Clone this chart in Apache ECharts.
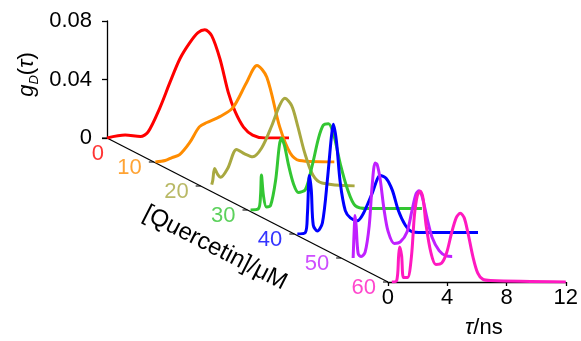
<!DOCTYPE html>
<html>
<head>
<meta charset="utf-8">
<script src="https://cdn.jsdelivr.net/npm/echarts@6/dist/echarts.min.js"></script>
<style>
  html, body { margin: 0; padding: 0; background: #fff; }
  #chart { width: 581px; height: 341px; }
</style>
</head>
<body>
<div id="chart"></div>
<script>
// quercetin concentrations (µM), one trace each
const concentrations = [0, 10, 20, 30, 40, 50, 60];
const traceColors = ['#ff0000', '#ff8c00', '#a8a840', '#33c633', '#0000ff', '#c020ff', '#ff19c0'];

const tauTicks = [0, 4, 8, 12];
const gTicks = [0, 0.04, 0.08];

// [tau (ns), gD(tau)]
const g0uM = [[0, 0], [1.2, 0.002], [2.2, 0.001], [2.7, 0.004], [3.5, 0.021], [4.15, 0.038], [4.8, 0.054],
  [5.45, 0.065], [6.0, 0.072], [6.45, 0.074], [6.9, 0.07], [7.45, 0.054], [8.0, 0.031], [8.45, 0.018],
  [9.0, 0.0075], [9.6, 0.002], [10.4, 0], [12, 0]];
const g10uM = [[0.1, 0], [0.75, 0.001], [1.2, 0.003], [1.7, 0.005], [2.35, 0.013], [3.0, 0.024], [3.5, 0.027],
  [4.35, 0.031], [5.2, 0.037], [6.1, 0.054], [6.8, 0.066], [7.45, 0.058], [8.3, 0.024], [9.0, 0.006],
  [9.6, 0.001], [11.9, 0]];
const g20uM = [[0.73, 0.001], [0.8, 0.004], [0.92, 0.012], [1.12, 0.008], [1.32, 0.006], [1.78, 0.012],
  [2.37, 0.025], [2.9, 0.022], [3.43, 0.02], [4.02, 0.026], [4.68, 0.041], [5.2, 0.055], [5.55, 0.06],
  [6.0, 0.055], [6.4, 0.041], [6.85, 0.023], [7.4, 0.0075], [8.0, 0.002], [10.15, 0]];
const g30uM = [[0.2, 0], [0.73, 0.001], [0.86, 0.01], [0.92, 0.024], [1.05, 0.01], [1.25, 0.002], [1.52, 0.003],
  [1.85, 0.02], [2.1, 0.044], [2.24, 0.049], [2.44, 0.044], [2.7, 0.031], [3.03, 0.018], [3.36, 0.012],
  [3.82, 0.014], [4.28, 0.031], [4.68, 0.049], [5.0, 0.058], [5.34, 0.059], [5.67, 0.052], [6.13, 0.031],
  [6.6, 0.014], [7.1, 0.003], [7.9, 0.001], [11.5, 0.001]];
const g40uM = [[0.2, 0], [0.73, 0.001], [0.86, 0.013], [0.99, 0.04], [1.12, 0.03], [1.25, 0.006], [1.52, 0.002],
  [1.85, 0.0075], [2.18, 0.037], [2.44, 0.066], [2.57, 0.075], [2.77, 0.064], [3.03, 0.035], [3.36, 0.016],
  [3.7, 0.011], [4.15, 0.009], [4.55, 0.014], [5.14, 0.028], [5.67, 0.04], [6.06, 0.038], [6.46, 0.03],
  [6.86, 0.016], [7.32, 0.006], [7.78, 0.0014], [8.2, 0.001], [12.2, 0.001]];
const g50uM = [[0.79, 0], [0.86, 0.019], [0.92, 0.029], [0.99, 0.022], [1.12, 0.003], [1.32, 0.001], [1.58, 0.004],
  [1.85, 0.022], [2.04, 0.049], [2.24, 0.065], [2.37, 0.064], [2.57, 0.054], [2.83, 0.033], [3.1, 0.018],
  [3.5, 0.01], [3.9, 0.011], [4.35, 0.018], [4.68, 0.033], [4.94, 0.044], [5.14, 0.046], [5.34, 0.042],
  [5.67, 0.027], [6.0, 0.014], [6.46, 0.005], [6.92, 0.0014], [7.32, 0.001]];
const g60uM = [[0.26, 0], [0.59, 0.001], [0.72, 0.018], [0.79, 0.024], [0.92, 0.018], [1.05, 0.003], [1.32, 0.003],
  [1.58, 0.017], [1.78, 0.045], [1.98, 0.059], [2.18, 0.062], [2.37, 0.057], [2.57, 0.039], [2.9, 0.02],
  [3.23, 0.012], [3.63, 0.013], [3.96, 0.02], [4.28, 0.033], [4.61, 0.044], [4.88, 0.047], [5.14, 0.044],
  [5.41, 0.033], [5.74, 0.017], [6.06, 0.006], [6.39, 0.002], [6.92, 0.001], [12, 0]];

const traces = [g0uM, g10uM, g20uM, g30uM, g40uM, g50uM, g60uM];

// layout of the fake 3D box
const boxLeft = 107, boxTop = 21, boxW = 182, boxH = 117;
const stepX = 46.83, stepY = 24;
const FONT = 'Arial, Liberation Sans, sans-serif';
const FS = 22;

const chart = echarts.init(document.getElementById('chart'));

const grids = [], xAxes = [], yAxes = [], series = [];

traces.forEach((data, i) => {
  grids.push({ left: boxLeft + i * stepX, top: boxTop + i * stepY, width: boxW, height: boxH });
  const last = i === traces.length - 1;
  xAxes.push({
    gridIndex: i, type: 'value', min: 0, max: 12, interval: 4, show: last,
    axisLine: { lineStyle: { color: '#000', width: 1.3 } },
    axisTick: { show: true, length: 4, lineStyle: { color: '#000', width: 1.3 } },
    splitLine: { show: false },
    axisLabel: { color: '#000', fontSize: FS, fontFamily: FONT, margin: 5 },
    name: '{t|τ}/ns', nameLocation: 'middle', nameGap: 35,
    nameTextStyle: { color: '#000', fontSize: FS, fontFamily: FONT, padding: [0, 0, 0, 14], rich: { t: { fontSize: FS, fontStyle: 'italic', fontFamily: FONT } } }
  });
  yAxes.push({
    gridIndex: i, type: 'value', min: 0, max: 0.08, interval: 0.04, show: i === 0,
    axisLine: { show: true, lineStyle: { color: '#000', width: 1.3 } },
    axisTick: { show: true, length: 5, lineStyle: { color: '#000', width: 1.3 } },
    splitLine: { show: false },
    axisLabel: { color: '#000', fontSize: FS, fontFamily: FONT, margin: 15, formatter: v => v === 0 ? '0' : v.toFixed(2) },
    name: '{g|g}{d|D}{p|(}{t|τ}{p|)}', nameLocation: 'middle', nameRotate: 90, nameGap: 66,
    nameTextStyle: {
      color: '#000', fontFamily: FONT, padding: [0, 0, 0, 10],
      rich: {
        g: { fontSize: FS, fontStyle: 'italic', lineHeight: 28, fontFamily: FONT },
        d: { fontSize: 13, fontStyle: 'italic', lineHeight: 14, verticalAlign: 'bottom', fontFamily: FONT },
        p: { fontSize: FS, lineHeight: 28, fontFamily: FONT },
        t: { fontSize: FS, fontStyle: 'italic', lineHeight: 28, fontFamily: FONT }
      }
    }
  });
  series.push({
    type: 'line', xAxisIndex: i, yAxisIndex: i, data: data,
    symbol: 'none', smooth: 0.3, silent: true,
    lineStyle: { color: traceColors[i], width: 3 }, z: 2 + i
  });
});

// diagonal concentration axis
const d = traces.length;
grids.push({ left: boxLeft, top: boxTop + boxH, width: stepX * 6, height: stepY * 6 });
xAxes.push({ gridIndex: d, type: 'value', min: 0, max: 60, show: false });
yAxes.push({ gridIndex: d, type: 'value', min: 0, max: 60, inverse: true, show: false });

series.push({
  type: 'line', xAxisIndex: d, yAxisIndex: d, silent: true, symbol: 'none',
  data: [[0, 0], [60, 60]], lineStyle: { color: '#000', width: 1.3 }, z: 1
});
series.push({
  type: 'scatter', xAxisIndex: d, yAxisIndex: d, silent: true,
  symbol: 'rect', symbolSize: [5, 1.3], symbolOffset: [-2.5, 0],
  itemStyle: { color: '#000' }, z: 1,
  data: concentrations.map((c, i) => ({
    value: [c, c],
    label: {
      show: true, position: 'left', distance: 7, formatter: String(c),
      color: traceColors[i], fontSize: FS, fontFamily: FONT,
      offset: i === 0 ? [9, 16] : [0, 6]
    }
  }))
});

const option = {
  backgroundColor: '#fff',
  animation: false,
  grid: grids,
  xAxis: xAxes,
  yAxis: yAxes,
  series: series,
  graphic: [{
    type: 'text',
    x: 215, y: 248, rotation: -Math.atan2(stepY, stepX),
    style: { text: '[Quercetin]/μM', font: '24px ' + FONT, fill: '#000', align: 'center', verticalAlign: 'middle' }
  }]
};

chart.setOption(option);
</script>
</body>
</html>
